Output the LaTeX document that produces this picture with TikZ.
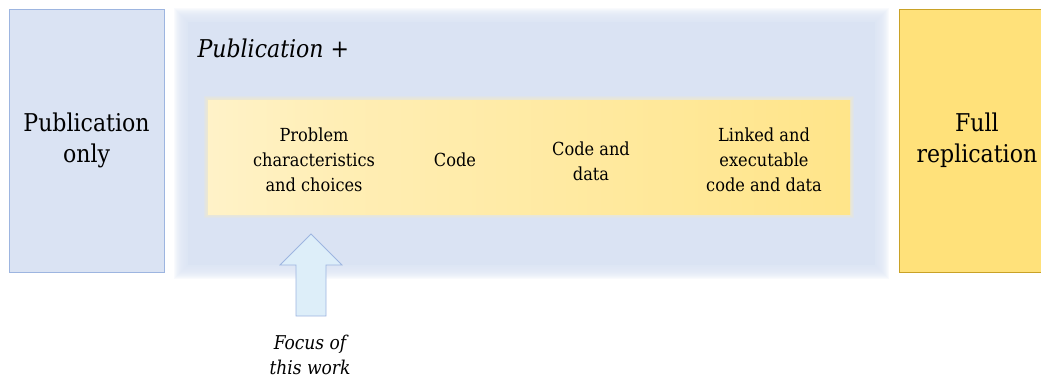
\documentclass[tikz,border=0pt]{standalone}
\usepackage{fontspec}
\setmainfont{DejaVu Serif Condensed}
\usepackage{tikz}
\usetikzlibrary{positioning,calc}
\definecolor{pubblue}{HTML}{DAE3F3}
\definecolor{pubedge}{HTML}{9DB5E0}
\definecolor{arrowfill}{HTML}{DDEEF9}
\definecolor{fullgold}{HTML}{FFE17A}
\definecolor{fulledge}{HTML}{C9A227}
\definecolor{goldlo}{HTML}{FFFEF8}
\definecolor{goldmid}{HTML}{FFEEB5}
\definecolor{goldhi}{HTML}{FFDF6E}
\pgfdeclarehorizontalshading{codegrad}{100bp}{color(0bp)=(goldlo); color(35bp)=(goldmid); color(100bp)=(goldhi)}

\tikzset{
  sidebox/.style={draw, line width=0.8pt, align=center, inner sep=0pt,
    minimum width=155pt, minimum height=263pt, font=\fontsize{24.5}{31}\selectfont},
  stage/.style={align=center, font=\fontsize{18}{25}\selectfont},
}

\begin{document}
\begin{tikzpicture}[x=1pt, y=-1pt]
	  \useasboundingbox (0,0) rectangle (1041,381);
	  % soft-edged level box
	  \foreach \k in {14,...,1}
	    \fill[pubblue, opacity=0.16] (188-\k,22-\k) rectangle (875+\k,265+\k);
	  \fill[pubblue] (188,22) rectangle (875,265);
	  \node[anchor=west, font=\itshape\fontsize{24.5}{30}\selectfont] (plus) at (194,48) {Publication +};
	  % gradient strip
	  \foreach \k in {4,...,1}
	    \fill[goldmid, opacity=0.15] (208-\k,100-\k) rectangle (850+\k,214+\k);
	  \shade[shading=codegrad] (208,100) rectangle (850,214);
	  \node[stage] (prob) at (314,160) {Problem\\characteristics\\and choices};
	  \node[stage] (code) at (455,160) {Code};
	  \node[stage] (data) at (591,161) {Code and\\data};
	  \node[stage] (linked) at (764,160) {Linked and\\executable\\code and data};
	  % end boxes
	  \node[sidebox, draw=pubedge, fill=pubblue] (only) at (86.5,140.5) {Publication\\only};
	  \node[sidebox, draw=fulledge, fill=fullgold, anchor=west] (full) at (899,140.5) {Full\\replication};
	  % focus arrow
	  \draw[pubedge, fill=arrowfill, line width=0.8pt, line join=miter]
	    (311,234) -- (342,265) -- (326,265) -- (326,316) -- (296,316) -- (296,265) -- (280,265) -- cycle;
	  \node[align=center, font=\itshape\fontsize{19}{25}\selectfont] (focus) at (310,355) {Focus of\\this work};
	\end{tikzpicture}
\end{document}
